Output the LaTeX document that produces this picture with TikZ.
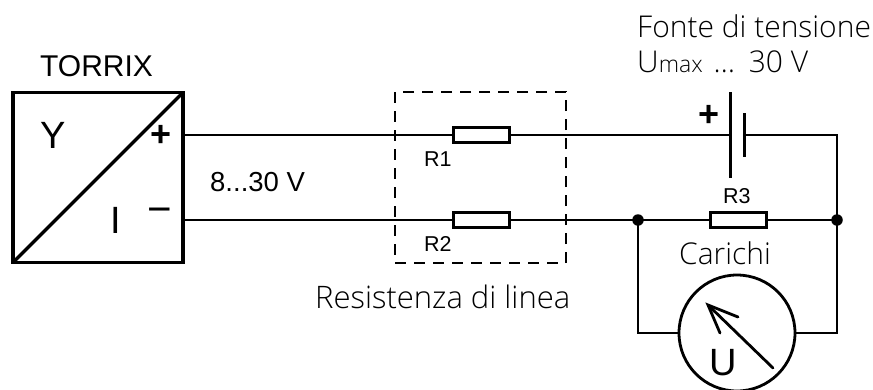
\documentclass[tikz,border=0pt]{standalone}
\usepackage{fontspec}
\setmainfont{Liberation Sans}
\newfontfamily\opensans{Open Sans Light}
\tikzset{
  wire/.style={line width=2.4pt,line cap=round,line join=miter},
  heavy/.style={line width=3.4pt,line join=miter},
  res/.style={draw,line width=3pt,fill=white,minimum width=56pt,minimum height=15pt,inner sep=0pt,outer sep=0pt},
  dot/.style={circle,fill=black,minimum size=11.5pt,inner sep=0pt,outer sep=0pt},
  lab/.style={inner sep=0pt,anchor=base west,font=\fontsize{30}{35}\selectfont},
  small/.style={inner sep=0pt,anchor=base west,font=\fontsize{21.5}{25}\selectfont},
  big/.style={inner sep=0pt,anchor=base west,font=\fontsize{30}{35}\selectfont\opensans},
  sym/.style={inner sep=0pt,font=\fontsize{38}{44}\selectfont},
  sign/.style={inner sep=0pt,font=\fontsize{36}{40}\selectfont\bfseries},
  minussign/.style={inner sep=0pt,font=\fontsize{42}{46}\selectfont}
}
\begin{document}
\begin{tikzpicture}[x=1pt,y=-1pt]
\useasboundingbox (0,0) rectangle (873,389);
% converter box
\node[draw,heavy,minimum width=170pt,minimum height=170pt,inner sep=0pt,outer sep=0pt] (conv) at (98,177.5) {};
\draw[heavy] (conv.south west) -- (conv.north east);
\coordinate (t1) at (conv.east |- 0,135);
\coordinate (t2) at (conv.east |- 0,220);
% components
\node[res] (R1) at (481.5,135) {};
\node[res] (R2) at (481.5,220) {};
\node[res] (R3) at (738,220) {};
\coordinate (platelong) at (730,135);
\coordinate (plateshort) at (744,135);
\coordinate (cornertr) at (837,135);
\node[dot] (d1) at (638,220) {};
\node[dot] (d2) at (837,220) {};
\node[draw,circle,wire,line width=2.8pt,minimum size=116pt,inner sep=0pt,outer sep=0pt] (meter) at (737,333) {};
% wires
\draw[wire] (t1) -- (R1.west);
\draw[wire] (R1.east) -- (platelong);
\draw[wire] (plateshort) -- (cornertr) -- (d2.center);
\draw[wire] (t2) -- (R2.west);
\draw[wire] (R2.east) -- (d1.center) -- (R3.west);
\draw[wire] (R3.east) -- (d2.center);
\draw[wire] (d1.center) |- (meter.west);
\draw[wire] (d2.center) |- (meter.east);
% battery
\draw[line width=3pt] (730,92) -- (730,178);
\draw[line width=3pt] (744,113) -- (744,157);
% meter needle
\draw[wire,line width=2.8pt] (773,368) -- (708,305);
\draw[wire,line width=2.8pt] (738,317) -- (708,305) -- (720,333);
% dashed box
\node[draw,line width=2.6pt,dash pattern=on 11pt off 8pt,minimum width=171pt,minimum height=171pt,inner sep=0pt] (dbox) at (480.5,177.5) {};
% text
\node[lab] (torrix) at (40,76) {TORRIX};
\node[lab,font=\fontsize{27.5}{33}\selectfont] (volt) at (210,191) {8...30 V};
\node[small] (r1) at (424,166) {R1};
\node[small] (r2) at (424,251) {R2};
\node[small] (r3) at (723,203) {R3};
\node[sym,anchor=base] (Y) at (53,148) {Y};
\node[sym,anchor=base] (I) at (116,233) {I};
\node[sign] (plus) at (161,136) {+};
\node[minussign] (minus) at (160,216) {−};
\node[sign] (bplus) at (709,116) {+};
\node[sym,anchor=base] (U) at (723,375) {U};
\node[big] (fonte) at (637,37) {Fonte di tensione};
\node[big] (umax) at (637,72) {U{\fontsize{23}{27}\selectfont max}\hspace{3pt} …\hspace{6pt} 30 V};
\node[big] (carichi) at (679,264) {Carichi};
\node[big,font=\fontsize{31}{36}\selectfont\opensans] (rl) at (315,308) {Resistenza di linea};
\end{tikzpicture}
\end{document}
